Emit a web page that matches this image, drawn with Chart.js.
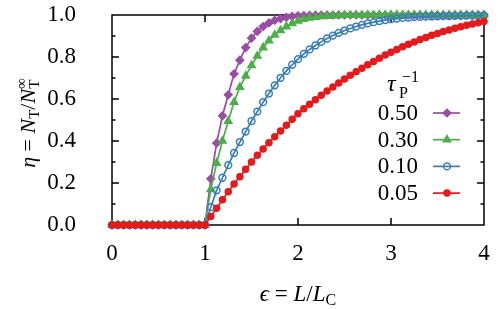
<!DOCTYPE html>
<html>
<head>
<meta charset="utf-8">
<script src="https://cdn.jsdelivr.net/npm/chart.js@4.4.1/dist/chart.umd.min.js"></script>
<style>
  html, body { margin: 0; padding: 0; background: #fff; }
</style>
</head>
<body>
<canvas id="chart" width="499" height="309"></canvas>
<script>
// grid of epsilon = L/L_C values (step 1/16)
const epsilon = Array.from({ length: 65 }, (_, i) => i / 16);

// eta = N_T / N_T^inf for each tau_P^-1
const eta050 = [
  0, 0, 0, 0, 0, 0, 0, 0, 0, 0, 0, 0, 0, 0, 0, 0, 0,
  0.22, 0.39, 0.52, 0.62, 0.72, 0.785, 0.845, 0.89, 0.922, 0.945, 0.962, 0.975, 0.983, 0.989, 0.993, 0.996,
  0.997, 0.998, 0.999, 1, 1, 1, 1, 1, 1, 1, 1, 1, 1, 1, 1, 1, 1, 1, 1, 1, 1, 1, 1, 1, 1, 1, 1, 1, 1, 1, 1, 1
];
const eta030 = [
  0, 0, 0, 0, 0, 0, 0, 0, 0, 0, 0, 0, 0, 0, 0, 0, 0,
  0.17, 0.295, 0.40, 0.495, 0.585, 0.656, 0.71, 0.76, 0.805, 0.845, 0.878, 0.905, 0.927, 0.945, 0.96, 0.972,
  0.98, 0.986, 0.99, 0.993, 0.995, 0.997, 0.998, 0.999, 0.999, 0.999, 0.999, 1, 1, 1, 1, 1, 1, 1, 1, 1, 1, 1, 1, 1, 1, 1, 1, 1, 1, 1, 1, 1
];
const eta010 = [
  0, 0, 0, 0, 0, 0, 0, 0, 0, 0, 0, 0, 0, 0, 0, 0, 0,
  0.085, 0.165, 0.225, 0.285, 0.343, 0.395, 0.445, 0.495, 0.54, 0.585, 0.626, 0.665, 0.701, 0.734, 0.763, 0.79,
  0.815, 0.836, 0.855, 0.872, 0.888, 0.902, 0.915, 0.926, 0.936, 0.945, 0.953, 0.96, 0.966, 0.971, 0.976, 0.98,
  0.983, 0.986, 0.988, 0.99, 0.991, 0.992, 0.993, 0.994, 0.995, 0.995, 0.996, 0.996, 0.997, 0.997, 0.997, 0.998
];
const eta005 = [
  0, 0, 0, 0, 0, 0, 0, 0, 0, 0, 0, 0, 0, 0, 0, 0, 0,
  0.04, 0.08, 0.12, 0.158, 0.195, 0.23, 0.265, 0.30, 0.332, 0.362, 0.392, 0.42, 0.448, 0.475, 0.503, 0.53,
  0.553, 0.575, 0.597, 0.618, 0.638, 0.657, 0.676, 0.695, 0.713, 0.73, 0.747, 0.763, 0.779, 0.794, 0.809, 0.823,
  0.836, 0.849, 0.861, 0.872, 0.883, 0.893, 0.903, 0.912, 0.921, 0.929, 0.937, 0.944, 0.951, 0.957, 0.963, 0.969
];

const legendLabels = ['0.50', '0.30', '0.10', '0.05'];
const xTickLabels = ['0', '1', '2', '3', '4'];
const yTickLabels = ['0.0', '0.2', '0.4', '0.6', '0.8', '1.0'];

const serif = '"Liberation Serif", "DejaVu Serif", serif';

function pts(arr) {
  return epsilon.map((x, i) => ({ x: x, y: arr[i] }));
}

function series(label, arr, color, style, radius, fill, order) {
  return {
    label: label,
    data: pts(arr),
    borderColor: color,
    backgroundColor: color,
    borderWidth: 1.7,
    pointStyle: style,
    pointRadius: radius,
    pointBorderWidth: 1.5,
    pointBorderColor: color,
    pointBackgroundColor: fill,
    tension: 0,
    clip: false,
    order: order
  };
}

const datasets = [
  series(legendLabels[0], eta050, '#984ea3', 'rectRot', 3.8, '#984ea3', 3),
  series(legendLabels[1], eta030, '#4daf4a', 'triangle', 4.2, '#4daf4a', 2),
  series(legendLabels[2], eta010, '#377eb8', 'circle', 3.4, 'rgba(0,0,0,0)', 1),
  series(legendLabels[3], eta005, '#e41a1c', 'circle', 3, '#e41a1c', 0)
];

// draw a row of text pieces (italic / subscript etc.) centred on x
function drawRuns(ctx, runs, x, y) {
  let total = 0;
  runs.forEach(r => {
    ctx.font = r.font;
    r.w = ctx.measureText(r.t).width;
    if (r.adv !== false) total += r.w;
  });
  let cx = x - total / 2;
  ctx.textAlign = 'left';
  ctx.textBaseline = 'alphabetic';
  runs.forEach(r => {
    ctx.font = r.font;
    ctx.fillText(r.t, cx, y + (r.dy || 0));
    if (r.adv !== false) cx += r.w;
  });
}

const it = 'italic 22px ' + serif;
const rm = '22px ' + serif;
const sm = '15px ' + serif;

// frame and inward ticks, drawn under the data
const framePlugin = {
  id: 'frame',
  beforeDatasetsDraw(chart) {
    const ctx = chart.ctx;
    const a = chart.chartArea;
    const xs = chart.scales.x, ys = chart.scales.y;
    ctx.save();
    ctx.strokeStyle = '#000';
    ctx.lineWidth = 1.5;
    ctx.strokeRect(a.left, a.top, a.right - a.left, a.bottom - a.top);
    ctx.beginPath();
    for (let v = 1; v < 4; v++) {
      const px = xs.getPixelForValue(v);
      ctx.moveTo(px, a.bottom); ctx.lineTo(px, a.bottom - 7);
      ctx.moveTo(px, a.top); ctx.lineTo(px, a.top + 7);
    }
    for (let i = 1; i < 10; i++) {
      const py = ys.getPixelForValue(i / 10);
      const len = i % 2 === 0 ? 7 : 3.5;
      ctx.moveTo(a.left, py); ctx.lineTo(a.left + len, py);
      ctx.moveTo(a.right, py); ctx.lineTo(a.right - len, py);
    }
    ctx.stroke();
    ctx.restore();
  },
  afterDraw(chart) {
    const ctx = chart.ctx;
    const a = chart.chartArea;
    ctx.save();
    ctx.fillStyle = '#000';

    // x axis title
    drawRuns(ctx, [
      { t: '\u03f5', font: 'italic 23px ' + serif }, { t: ' = ', font: '23px ' + serif }, { t: 'L', font: 'italic 23px ' + serif },
      { t: '/', font: '23px ' + serif }, { t: 'L', font: 'italic 23px ' + serif }, { t: 'C', font: '16px ' + serif, dy: 4 }
    ], (a.left + a.right) / 2, 301);

    // y axis title
    ctx.save();
    ctx.translate(35, 123);
    ctx.rotate(-Math.PI / 2);
    drawRuns(ctx, [
      { t: '\u03b7', font: it }, { t: ' = ', font: rm }, { t: 'N', font: it },
      { t: 'T', font: sm, dy: 4 }, { t: '/', font: rm }, { t: 'N', font: it },
      { t: 'T', font: sm, dy: 4, adv: false }, { t: '\u221e', font: sm, dy: -9 }
    ], 0, 0);
    ctx.restore();

    // legend heading
    ctx.textAlign = 'left';
    ctx.textBaseline = 'alphabetic';
    ctx.font = 'italic 24px ' + serif;
    ctx.fillText('\u03c4', 387, 91);
    ctx.font = '16px ' + serif;
    ctx.fillText('P', 399, 98);
    ctx.fillText('\u22121', 402, 82);

    // legend rows
    chart.data.datasets.forEach((ds, i) => {
      const y = 113 + i * 26.7;
      ctx.font = '23px ' + serif;
      ctx.textAlign = 'right';
      ctx.textBaseline = 'middle';
      ctx.fillStyle = '#000';
      ctx.fillText(ds.label, 418, y + 1);
      ctx.strokeStyle = ds.borderColor;
      ctx.lineWidth = 1.7;
      ctx.beginPath();
      ctx.moveTo(433, y); ctx.lineTo(460, y);
      ctx.stroke();
      ctx.fillStyle = ds.pointBackgroundColor;
      ctx.lineWidth = 1.5;
      Chart.helpers.drawPoint(ctx, { pointStyle: ds.pointStyle, radius: ds.pointRadius, rotation: 0, borderWidth: 1.5 }, 447, y);
    });
    ctx.restore();
  }
};

new Chart(document.getElementById('chart'), {
  type: 'line',
  data: { datasets: datasets },
  options: {
    responsive: false,
    animation: false,
    devicePixelRatio: 1,
    layout: { padding: { left: 0, right: 15, top: 15, bottom: 0 } },
    plugins: { legend: { display: false }, tooltip: { enabled: false } },
    scales: {
      x: {
        type: 'linear', min: 0, max: 4,
        grid: { display: false },
        border: { display: false },
        ticks: {
          stepSize: 1, padding: 7, color: '#000', maxRotation: 0,
          font: { family: serif, size: 23 },
          callback: (v, i) => xTickLabels[i]
        },
        afterFit: s => { s.height = 84; s.paddingLeft = 0; s.paddingRight = 0; }
      },
      y: {
        min: 0, max: 1,
        grid: { display: false },
        border: { display: false },
        ticks: {
          stepSize: 0.2, padding: 28, color: '#000',
          font: { family: serif, size: 23 },
          callback: (v, i) => yTickLabels[i]
        },
        afterFit: s => { s.width = 112; s.paddingTop = 0; s.paddingBottom = 0; }
      }
    }
  },
  plugins: [framePlugin]
});
</script>
</body>
</html>
